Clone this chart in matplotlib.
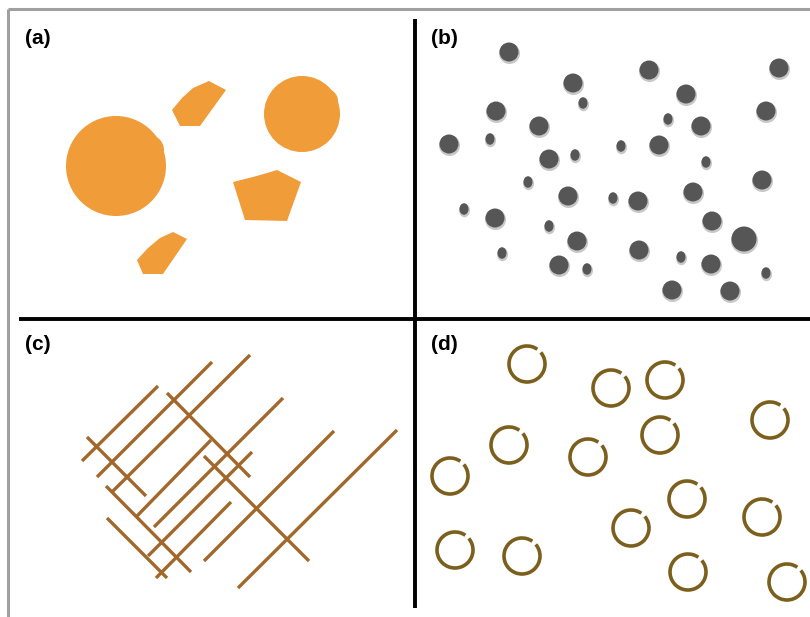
import numpy as np
import matplotlib.pyplot as plt
from matplotlib.patches import Circle, Ellipse, Polygon, Arc

# panel labels
labels = ["(a)", "(b)", "(c)", "(d)"]
label_xy = [(25, 38), (431, 38), (25, 345), (431, 345)]

# (a) orange particles: circles (x, y, r) with a small bump, and polygons
blob_circles = [(116, 166, 50), (302, 114, 38)]
blob_bumps = [(149, 150, 15), (326, 101, 12)]
blob_polys = [
    [(209, 81), (193, 88), (182, 98), (172, 110), (180, 126), (200, 126), (226, 90)],
    [(233, 182), (245, 220), (287, 221), (301, 182), (277, 170), (267, 173), (253, 177)],
    [(137, 260), (143, 274), (163, 274), (187, 239), (173, 232), (160, 238), (148, 248)],
]

# (b) grey dots: x, y, size class (0 small, 1 normal, 2 big)
dot_x = [509, 573, 649, 779, 686, 496, 583, 539, 668, 701, 766, 449, 490, 549, 575,
         621, 659, 706, 762, 528, 568, 613, 638, 693, 464, 495, 549, 712, 744, 577,
         639, 502, 559, 587, 681, 711, 766, 672, 730]
dot_y = [52, 83, 70, 68, 94, 111, 103, 126, 119, 126, 111, 144, 139, 159, 155,
         146, 145, 162, 180, 182, 196, 198, 201, 192, 209, 218, 226, 221, 239, 241,
         250, 253, 265, 269, 257, 264, 273, 290, 291]
dot_size = [1, 1, 1, 1, 1, 1, 0, 1, 0, 1, 1, 1, 0, 1, 0,
            0, 1, 0, 1, 0, 1, 0, 1, 1, 0, 1, 0, 1, 2, 1,
            1, 0, 1, 0, 0, 1, 0, 1, 1]

# (c) fibres: (x1, y1, x2, y2)
fibres = [
    (82, 461, 158, 386), (97, 477, 212, 362), (112, 492, 250, 355),
    (137, 516, 211, 440), (154, 527, 283, 398), (148, 556, 252, 452),
    (156, 578, 231, 502), (204, 561, 334, 431), (238, 588, 397, 430),
    (87, 437, 146, 496), (106, 486, 191, 572), (107, 518, 167, 578),
    (167, 393, 250, 477), (204, 456, 309, 561),
]

# (d) rings
ring_x = [527, 611, 665, 770, 509, 588, 660, 450, 687, 631, 762, 455, 522, 688, 787]
ring_y = [364, 388, 380, 420, 445, 457, 435, 476, 499, 528, 517, 550, 556, 572, 582]

orange = "#f09c38"
grey = "#565656"
brown = "#a2672a"
olive = "#7d5f1d"

fig = plt.figure(figsize=(8.1, 6.17), dpi=100)
ax = fig.add_axes([0, 0, 1, 1])
ax.set_xlim(0, 810)
ax.set_ylim(617, 0)
ax.axis("off")

# frame and divider
ax.plot([8, 8], [617, 9], color="#a0a0a0", lw=2.2, solid_capstyle="butt")
ax.plot([8, 810], [9, 9], color="#a0a0a0", lw=2.2, solid_capstyle="butt")
ax.plot([415, 415], [19, 608], color="black", lw=2.8, solid_capstyle="butt")
ax.plot([19, 810], [319, 319], color="black", lw=2.8, solid_capstyle="butt")

for t, (x, y) in zip(labels, label_xy):
    ax.text(x, y, t, fontsize=15, fontweight="bold", family="Liberation Sans",
            ha="left", va="center")

# (a)
for (x, y, r) in blob_circles + blob_bumps:
    ax.add_patch(Circle((x, y), r, color=orange, lw=0))
for pts in blob_polys:
    ax.add_patch(Polygon(pts, closed=True, color=orange, lw=0))

# (b)
for x, y, s in zip(dot_x, dot_y, dot_size):
    w, h = [(9, 11.5), (19, 19), (25, 25)][s]
    ax.add_patch(Ellipse((x + 0.5, y + 1.5), w + 2, h + 2, color="#c8c8c8", lw=0))
    ax.add_patch(Ellipse((x, y), w, h, color=grey, lw=0))

# (c)
for x1, y1, x2, y2 in fibres:
    ax.plot([x1, x2], [y1, y2], color=brown, lw=2.4, solid_capstyle="butt")

# (d)
for x, y in zip(ring_x, ring_y):
    ax.add_patch(Arc((x, y), 36, 36, theta1=-40, theta2=305, color=olive, lw=2.6))

fig.savefig("out.png", dpi=100)
